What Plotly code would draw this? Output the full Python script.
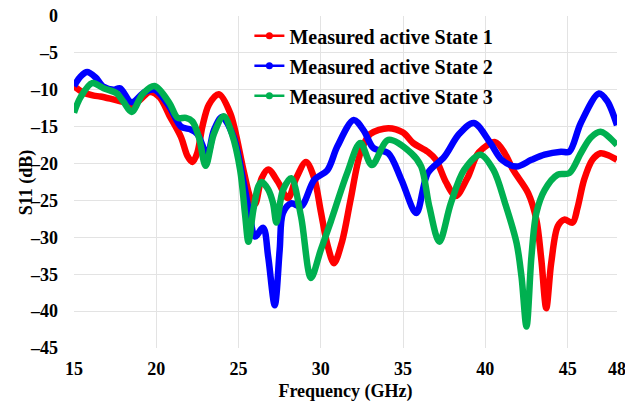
import plotly.graph_objects as go

# ---- data ----
freq_s1 = [15, 15.5, 16.2, 16.6, 17.2, 18.2, 18.5, 19.0, 19.6, 20.2, 20.8, 21.5, 21.9, 22.2, 22.5, 22.8,
           23.2, 23.8, 24.5, 25.3, 25.7, 26.0, 26.4, 26.8, 27.4, 28.0, 28.5, 29.1, 29.6, 30.0, 30.4,
           30.8, 31.3, 31.8, 32.4, 33.0, 34.1, 35.0, 35.6, 36.5, 37.0, 37.6, 38.2, 38.9, 39.6, 40.6,
           41.2, 41.7, 42.6, 43.1, 43.4, 43.7, 44.0, 44.4, 44.8, 45.3, 45.6, 46.0, 46.5, 47.0, 47.5, 48.0]
s11_s1 = [-9.5, -10.3, -10.8, -10.9, -11.2, -11.8, -12.1, -11.4, -10.3, -11.0, -13.5, -16.4, -19.0, -19.8, -18.5, -15.0,
          -12.0, -10.6, -13.2, -20.9, -24.5, -25.5, -22.0, -20.8, -22.5, -24.7, -22.0, -19.8, -22.0, -26.5, -31.0,
          -33.5, -30.5, -25.0, -18.6, -16.0, -15.2, -15.8, -17.2, -18.4, -19.5, -22.5, -24.4, -22.0, -18.5, -17.1,
          -18.7, -20.9, -24.0, -27.6, -33.0, -39.6, -33.5, -28.5, -27.6, -28.0, -26.0, -22.2, -19.5, -18.6, -18.9, -19.5]

freq_s2 = [15, 15.4, 15.8, 16.3, 16.8, 17.4, 17.8, 18.5, 19.3, 19.9, 20.8, 21.5, 22.1, 22.5, 23.1, 23.5,
           24.0, 24.7, 25.3, 25.7, 26.0, 26.5, 26.8, 27.2, 27.5, 27.7, 28.2, 28.8, 29.6, 30.4, 31.0,
           32.0, 32.6, 33.2, 34.1, 34.9, 35.8, 36.5, 37.5, 38.4, 39.3, 40.3, 41.0, 41.9, 42.8, 43.6,
           44.6, 45.1, 45.8, 46.9, 47.4, 48.0]
s11_s2 = [-9.5, -8.2, -7.6, -8.3, -9.6, -10.0, -9.8, -11.7, -10.3, -10.0, -12.3, -15.0, -15.4, -16.0, -18.8, -15.5,
          -13.7, -16.4, -22.5, -27.2, -29.9, -28.7, -32.6, -39.2, -31.7, -26.7, -25.4, -25.8, -22.2, -20.9, -17.7,
          -14.1, -15.5, -17.9, -18.6, -22.2, -26.7, -21.3, -19.1, -16.0, -14.5, -17.2, -19.5, -20.4, -19.5, -18.8,
          -18.4, -18.4, -14.5, -10.5, -11.5, -14.8]

freq_s3 = [15, 15.4, 16.1, 16.8, 17.6, 18.0, 18.5, 19.2, 19.9, 20.8, 21.3, 21.8, 22.2, 22.6, 23.0, 23.5,
           24.1, 24.6, 25.1, 25.4, 25.6, 25.9, 26.2, 26.4, 26.8, 27.1, 27.3, 27.7, 28.2, 28.8, 29.4,
           30.0, 30.6, 31.6, 32.4, 33.1, 34.1, 35.5, 36.1, 36.6, 37.2, 37.9, 38.7, 39.7, 40.5, 41.2,
           41.9, 42.2, 42.5, 42.8, 43.1, 43.6, 44.4, 45.1, 45.8, 46.4, 47.0, 48.0]
s11_s3 = [-13.1, -11.0, -9.1, -9.8, -10.5, -11.6, -13.0, -10.5, -9.5, -11.8, -13.8, -13.8, -14.3, -16.5, -20.3, -16.0,
          -13.6, -16.0, -20.9, -27.0, -30.6, -26.3, -23.1, -22.5, -23.5, -25.4, -28.0, -23.6, -22.0, -27.2, -35.5,
          -31.7, -27.9, -21.3, -17.2, -20.2, -16.8, -18.6, -20.4, -25.9, -30.6, -25.4, -20.9, -18.8, -20.9, -25.4,
          -30.8, -35.4, -42.1, -32.6, -26.7, -23.6, -21.5, -21.3, -18.6, -16.5, -15.7, -17.5]

series_names = ["Measured active State 1", "Measured active State 2", "Measured active State 3"]
x_ticks = [15, 20, 25, 30, 35, 40, 45, 48]
y_ticks = [0, -5, -10, -15, -20, -25, -30, -35, -40, -45]

colors = ["#ff0000", "#0000ff", "#00b050"]
font_family = "Liberation Serif"

fig = go.Figure()
for i, (fx, sy) in enumerate([(freq_s1, s11_s1), (freq_s2, s11_s2), (freq_s3, s11_s3)]):
    fig.add_trace(go.Scatter(
        x=fx, y=sy, mode="lines", name=series_names[i],
        line=dict(color=colors[i], width=6.5, shape="spline", smoothing=0.9),
        showlegend=False, legendgroup=f"g{i}"))
for i in range(3):
    fig.add_trace(go.Scatter(
        x=[None], y=[None], mode="lines+markers", name="<b>" + series_names[i] + "</b>",
        line=dict(color=colors[i], width=2.5), marker=dict(color=colors[i], size=7),
        legendgroup=f"g{i}"))

fig.update_layout(
    width=625, height=405,
    margin=dict(l=74, r=8, t=16, b=57),
    paper_bgcolor="white", plot_bgcolor="white",
    font=dict(family=font_family, size=18, color="black"),
    legend=dict(x=0.323, y=0.999, xanchor="left", yanchor="top",
                bgcolor="rgba(0,0,0,0)", tracegroupgap=1,
                font=dict(family=font_family, size=20, color="black"),
                itemwidth=30),
)
fig.update_xaxes(range=[15, 48], tickvals=x_ticks, ticktext=[f"<b>{v}</b>" for v in x_ticks],
                 showgrid=True, gridcolor="#e3e3e3", gridwidth=1, zeroline=False, automargin=False,
                 showline=False, ticks="", ticklabelstandoff=8, ticklabeloverflow="allow",
                 tickfont=dict(family=font_family, size=18),
                 title=dict(text="<b>Frequency (GHz)</b>", standoff=6,
                            font=dict(family=font_family, size=18)))
fig.update_yaxes(range=[-45, 0], tickvals=y_ticks,
                 ticktext=[("<b>\u2013" + str(-v) + "</b>") if v < 0 else "<b>0</b>" for v in y_ticks],
                 showgrid=True, gridcolor="#e3e3e3", gridwidth=1, zeroline=False, automargin=False,
                 showline=False, ticks="", ticklabelstandoff=15, ticklabeloverflow="allow")
fig.add_annotation(text="<b>S11 (dB)</b>", textangle=-90, xref="paper", yref="paper",
                   x=-0.088, y=0.5, xanchor="center", yanchor="middle", showarrow=False,
                   font=dict(family=font_family, size=18, color="black"))

fig.write_html("out.html", config={"displayModeBar": False},
               post_script="document.body.style.margin='0px';")
